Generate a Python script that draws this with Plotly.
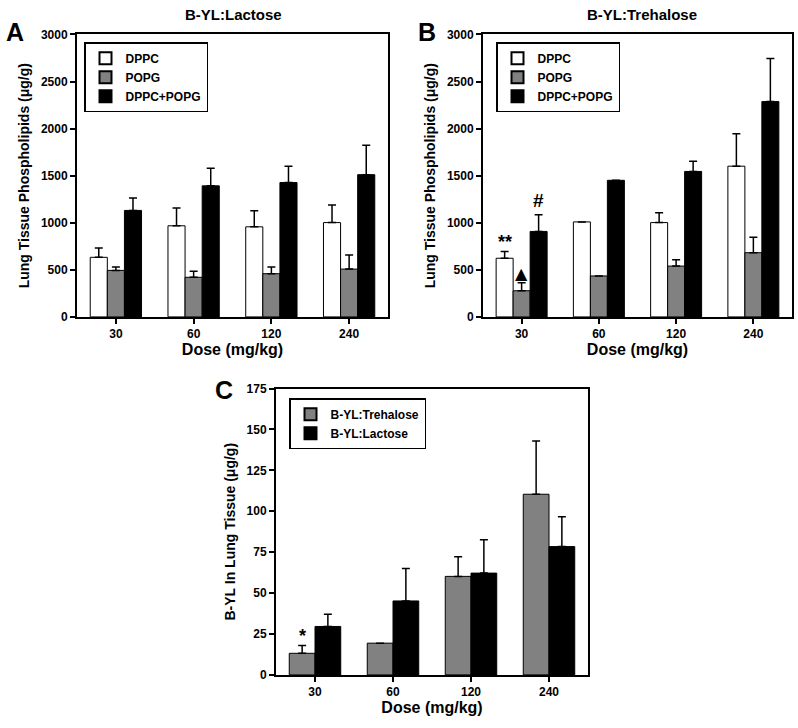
import plotly.graph_objects as go

doses = ["30", "60", "120", "240"]

# Panel A - B-YL:Lactose, lung tissue phospholipids (ug/g)
lac_dppc = [633, 968, 957, 1002]
lac_dppc_err = [98, 188, 171, 188]
lac_popg = [494, 421, 459, 508]
lac_popg_err = [35, 63, 70, 150]
lac_mix = [1131, 1392, 1427, 1511]
lac_mix_err = [132, 188, 174, 313]

# Panel B - B-YL:Trehalose
tre_dppc = [623, 1009, 1002, 1601]
tre_dppc_err = [73, 0, 105, 345]
tre_popg = [278, 435, 540, 682]
tre_popg_err = [84, 0, 66, 164]
tre_mix = [908, 1451, 1545, 2287]
tre_mix_err = [178, 0, 108, 459]

# Panel C - B-YL in lung tissue (ug/g)
byl_tre = [13.2, 19.4, 60.2, 110.4]
byl_tre_err = [4.8, 0, 12.0, 32.6]
byl_lac = [29.6, 45.2, 62.2, 78.4]
byl_lac_err = [7.4, 19.8, 20.4, 18.2]

W, H = 798, 728
FONT = "Liberation Sans, Arial, sans-serif"
GRAY = "#818181"


def px_x(p):
    return p / W


def px_y(p):
    return 1 - p / H


def bar(name, x, y, err, color, xa, ya, legend):
    return go.Bar(
        name=name, x=x, y=y,
        marker=dict(color=color, line=dict(color="black", width=1)),
        error_y=dict(type="data", array=err, symmetric=False, arrayminus=[0] * len(err),
                     color="black", thickness=1.5, width=4),
        xaxis=xa, yaxis=ya, legend=legend,
    )


fig = go.Figure()

fig.add_trace(bar("DPPC", doses, lac_dppc, lac_dppc_err, "white", "x", "y", "legend"))
fig.add_trace(bar("POPG", doses, lac_popg, lac_popg_err, GRAY, "x", "y", "legend"))
fig.add_trace(bar("DPPC+POPG", doses, lac_mix, lac_mix_err, "black", "x", "y", "legend"))

fig.add_trace(bar("DPPC", doses, tre_dppc, tre_dppc_err, "white", "x2", "y2", "legend2"))
fig.add_trace(bar("POPG", doses, tre_popg, tre_popg_err, GRAY, "x2", "y2", "legend2"))
fig.add_trace(bar("DPPC+POPG", doses, tre_mix, tre_mix_err, "black", "x2", "y2", "legend2"))

fig.add_trace(bar("B-YL:Trehalose", doses, byl_tre, byl_tre_err, GRAY, "x3", "y3", "legend3"))
fig.add_trace(bar("B-YL:Lactose", doses, byl_lac, byl_lac_err, "black", "x3", "y3", "legend3"))

tickfont = dict(family=FONT, size=12, color="black", weight="bold")
axis_common = dict(showline=True, linecolor="black", linewidth=2, mirror=True,
                   ticks="outside", ticklen=5, tickwidth=1.5, tickcolor="black",
                   showgrid=False, zeroline=False, tickfont=tickfont)
xtitle = dict(text="Dose (mg/kg)", font=dict(family=FONT, size=16, color="black", weight="bold"),
              standoff=2)
ytitle_font = dict(family=FONT, size=14, color="black", weight="bold")

legend_common = dict(bgcolor="white", bordercolor="black", borderwidth=1.5,
                     font=dict(family=FONT, size=12, color="black", weight="bold"),
                     xanchor="left", yanchor="top", tracegroupgap=0,
                     itemsizing="constant")

fig.update_layout(
    width=W, height=H,
    margin=dict(l=0, r=0, t=0, b=0),
    paper_bgcolor="white", plot_bgcolor="white",
    barmode="group", bargap=0.34, bargroupgap=0,
    font=dict(family=FONT, color="black"),
    xaxis=dict(domain=[px_x(77), px_x(388)], anchor="y", type="category",
               title=xtitle, **axis_common),
    yaxis=dict(domain=[px_y(316), px_y(28)], anchor="x", range=[0, 3000], dtick=500,
               title=dict(text="Lung Tissue Phospholipids (\u03bcg/g)", font=ytitle_font, standoff=8),
               **axis_common),
    xaxis2=dict(domain=[px_x(483), px_x(792)], anchor="y2", type="category",
                title=xtitle, **axis_common),
    yaxis2=dict(domain=[px_y(316), px_y(28)], anchor="x2", range=[0, 3000], dtick=500,
                title=dict(text="Lung Tissue Phospholipids (\u03bcg/g)", font=ytitle_font, standoff=8),
                **axis_common),
    xaxis3=dict(domain=[px_x(276), px_x(588)], anchor="y3", type="category",
                title=xtitle, **axis_common),
    yaxis3=dict(domain=[px_y(681), px_y(389)], anchor="x3", range=[0, 175], dtick=25,
                title=dict(text="B-YL In Lung Tissue (\u03bcg/g)", font=ytitle_font, standoff=8),
                **axis_common),
    legend=dict(x=px_x(84), y=px_y(36), **legend_common),
    legend2=dict(x=px_x(496), y=px_y(36), **legend_common),
    legend3=dict(x=px_x(289), y=px_y(399), **legend_common),
)

title_font = dict(family=FONT, size=15, color="black", weight="bold")
letter_font = dict(family=FONT, size=25, color="black", weight="bold")
mark_font = dict(family=FONT, size=18, color="black", weight="bold")

annotations = [
    dict(text="B-YL:Lactose", x=px_x(233), y=px_y(8), font=title_font),
    dict(text="B-YL:Trehalose", x=px_x(642), y=px_y(8), font=title_font),
    dict(text="A", x=px_x(15), y=px_y(26), font=letter_font),
    dict(text="B", x=px_x(427), y=px_y(26), font=letter_font),
    dict(text="C", x=px_x(224), y=px_y(390), font=letter_font),
]
for a in annotations:
    a.update(xref="paper", yref="paper", showarrow=False, xanchor="center", yanchor="middle")

# significance markers over the 30 mg/kg bars (category index 0)
annotations += [
    dict(text="**", xref="x2", yref="y2", x=0, y=tre_dppc[0] + tre_dppc_err[0],
         xshift=-17, yshift=-3, font=mark_font),
    dict(text="\u25b2", xref="x2", yref="y2", x=0, y=tre_popg[0] + tre_popg_err[0],
         xshift=0, yshift=-2, font=dict(family="DejaVu Sans", size=16, color="black")),
    dict(text="#", xref="x2", yref="y2", x=0, y=tre_mix[0] + tre_mix_err[0],
         xshift=17, yshift=2, font=dict(family=FONT, size=19, color="black", weight="bold")),
    dict(text="*", xref="x3", yref="y3", x=0, y=byl_tre[0] + byl_tre_err[0],
         xshift=-13, yshift=-3, font=mark_font),
]
for a in annotations[5:]:
    a.update(showarrow=False, xanchor="center", yanchor="bottom")

fig.update_layout(annotations=annotations)

fig.write_html("out.html", config={"displayModeBar": False},
               post_script="document.body.style.margin='0px';")
